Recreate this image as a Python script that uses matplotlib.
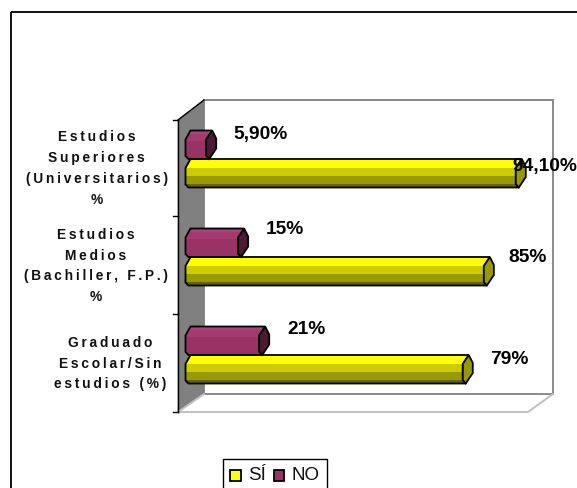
import matplotlib
matplotlib.use("Agg")
import matplotlib.pyplot as plt
from matplotlib.patches import Polygon, Rectangle
from matplotlib.transforms import Affine2D

W, H = 577, 489
categories = ["Graduado\nEscolar/Sin\nestudios (%)",
              "Estudios\nMedios\n(Bachiller, F.P.)\n%",
              "Estudios\nSuperiores\n(Universitarios)\n%"]
si_values = [79, 85, 94.1]
no_values = [21, 15, 5.9]
si_labels = ["79%", "85%", "94,10%"]
no_labels = ["21%", "15%", "5,90%"]
series_names = ["SÍ", "NO"]

plt.rcParams['font.family'] = ['Liberation Sans', 'DejaVu Sans']
fig = plt.figure(figsize=(W / 100, H / 100), dpi=100, facecolor='white')
ax = fig.add_axes([0, 0, 1, 1])
ax.axis('off')

# data scales: x0 px at value 0, SX px per percent; Y0 px at category 0, SY px per category
X0, SX, Y0, SY = 185.5, 3.51, 356.0, 98.0
ax.set_xlim(-X0 / SX, (W - X0) / SX)
ax.set_ylim(-(H - Y0) / SY, Y0 / SY)
px = Affine2D().scale(1 / W, -1 / H).translate(0, 1) + fig.transFigure

def add_px(poly, **kw):
    ax.add_patch(Polygon(poly, closed=True, transform=px, **kw))

def line_px(xs, ys, **kw):
    ax.plot(xs, ys, transform=px, clip_on=False, **kw)

# outer frame
line_px([11, 11], [489, 12.5], color='black', lw=1.3, solid_capstyle='butt')
line_px([11, 577], [12.5, 12.5], color='black', lw=1.3, solid_capstyle='butt')

# 3D box
add_px([(204, 101), (553, 101), (553, 395), (204, 395)], fc='white', ec='#808080', lw=1.3)
add_px([(178, 121), (204, 101), (204, 395), (178, 413)], fc='#808080', ec='#808080', lw=0.5)
line_px([204, 178, 528, 553], [395, 413, 413, 395], color='#C0C0C0', lw=1.4)
line_px([178, 178], [121, 413], color='black', lw=1)
line_px([178, 204], [121, 101], color='black', lw=1)
for ty in [121, 217, 315, 413]:
    line_px([173, 178], [ty, ty], color='black', lw=1)


def bar3d(cat, value, top_dy, bands, cap):
    """Faceted bar: value gives the end in data units, cat the category position."""
    def P(dx, dy, v=0.0):
        return (v + dx / SX, cat + (top_dy - dy) / SY)
    h = 28.5
    body = [P(0, 9), P(5, 0), P(6, 0, value), P(0, 9, value), P(0, 25, value),
            P(3, h, value), P(3, h), P(0, h - 3)]
    clip = Polygon(body, closed=True, transform=ax.transData, fc='none', ec='none')
    ax.add_patch(clip)
    for (a, b, c) in bands:
        y_top = cat + (top_dy - a) / SY
        y_bot = cat + (top_dy - b) / SY
        r = ax.barh((y_top + y_bot) / 2, value + 6 / SX, height=abs(y_top - y_bot), color=c, lw=0, zorder=2)
        for p in r:
            p.set_clip_path(clip)
    ax.add_patch(Polygon(body, closed=True, fc='none', ec='black', lw=1.3, zorder=3))
    capoly = [P(6, 0, value), P(0, 9, value), P(0, 25, value), P(3, h, value),
              P(10, 18, value), P(10, 8, value)]
    ax.add_patch(Polygon(capoly, closed=True, fc=cap, ec='black', lw=1.3, zorder=3))


yellow = [(0, 9, '#FFFF00'), (9, 17, '#CCCC00'), (17, 25, '#999900'), (25, 29, '#666600')]
purple = [(0, 3, '#A8447A'), (3, 10, '#A33A70'), (10, 29, '#993366')]

for i in range(len(categories)):
    bar3d(i, no_values[i], 28.5, purple, '#4D1A33')
    bar3d(i, si_values[i], 0, yellow, '#999900')

# data labels
si_xy = [(509.5, 359), (527.5, 257), (544.5, 166)]
no_xy = [(307, 330), (285, 229), (260.5, 134)]
for (x, y), s in zip(si_xy + no_xy, si_labels + no_labels):
    ax.text(x, y, s, transform=px, ha='center', va='center', fontsize=13.8,
            fontweight='bold', color='black', zorder=5)

# category labels, loosely tracked as in the reference
def track(s):
    return "\n".join("\u2009".join(line) for line in s.split("\n"))

label_xy = [(110, 363.5), (95.5, 266), (96.5, 168.5)]
for (x, y), s in zip(label_xy, categories):
    ax.text(x, y, track(s), transform=px, ha='center', va='center', multialignment='center',
            fontsize=9.9, fontweight='bold', color='#111111', linespacing=1.61)

# legend
ax.add_patch(Rectangle((222.5, 459.5), 104, 40, transform=px, fc='white', ec='black', lw=1, clip_on=True))
for sx_, c in [(230, '#FFFF00'), (273.5, '#993366')]:
    ax.add_patch(Rectangle((sx_, 471), 10.5, 10.5, transform=px, fc=c, ec='black', lw=1.3))
ax.text(248, 475, series_names[0], transform=px, ha='left', va='center', fontsize=13.5, color='#111111')
ax.text(291.5, 475, series_names[1], transform=px, ha='left', va='center', fontsize=13.5, color='#111111')

fig.savefig('out.png', dpi=100)
